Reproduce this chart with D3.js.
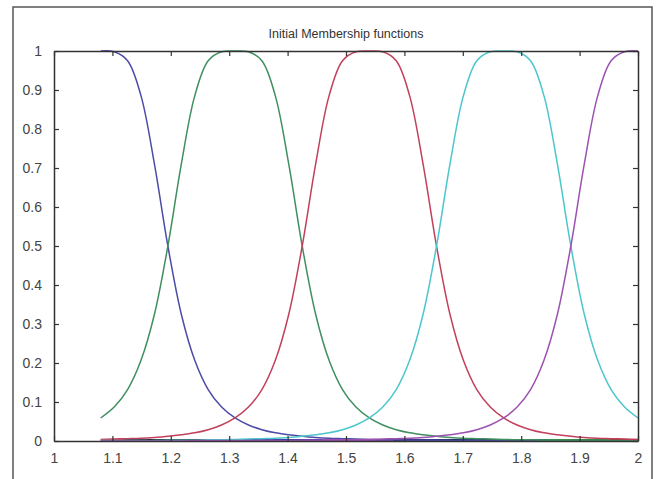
<!DOCTYPE html>
<html>
<head>
<meta charset="utf-8">
<script src="https://cdn.jsdelivr.net/npm/d3@7"></script>
<style>
  html, body { margin: 0; padding: 0; background: #fff; }
  svg { display: block; }
</style>
</head>
<body>
<svg id="chart" width="657" height="479"></svg>
<script>
// ---- data ----
const title = "Initial Membership functions";
const xTicks = [1, 1.1, 1.2, 1.3, 1.4, 1.5, 1.6, 1.7, 1.8, 1.9, 2];
const yTicks = [0, 0.1, 0.2, 0.3, 0.4, 0.5, 0.6, 0.7, 0.8, 0.9, 1];
const xTickLabels = ["1", "1.1", "1.2", "1.3", "1.4", "1.5", "1.6", "1.7", "1.8", "1.9", "2"];
const yTickLabels = ["0", "0.1", "0.2", "0.3", "0.4", "0.5", "0.6", "0.7", "0.8", "0.9", "1"];

const xs = [1.080, 1.103, 1.126, 1.149, 1.172, 1.195, 1.218, 1.241, 1.264, 1.287,
            1.310, 1.333, 1.356, 1.379, 1.402, 1.425, 1.448, 1.471, 1.494, 1.517,
            1.540, 1.563, 1.586, 1.609, 1.632, 1.655, 1.678, 1.701, 1.724, 1.747,
            1.770, 1.793, 1.816, 1.839, 1.862, 1.885, 1.908, 1.931, 1.954, 1.977, 2.000];

const mf1 = [1.000, 0.998, 0.975, 0.885, 0.710, 0.500, 0.325, 0.207, 0.132, 0.087,
             0.059, 0.041, 0.029, 0.021, 0.016, 0.012, 0.009, 0.007, 0.006, 0.005,
             0.004, 0.003, 0.003, 0.002, 0.002, 0.002, 0.001, 0.001, 0.001, 0.001,
             0.001, 0.001, 0.001, 0.001, 0.000, 0.000, 0.000, 0.000, 0.000, 0.000, 0.000];
const mf2 = [0.059, 0.087, 0.132, 0.207, 0.325, 0.500, 0.710, 0.885, 0.975, 0.998,
             1.000, 0.998, 0.975, 0.885, 0.710, 0.500, 0.325, 0.207, 0.132, 0.087,
             0.059, 0.041, 0.029, 0.021, 0.016, 0.012, 0.009, 0.007, 0.006, 0.005,
             0.004, 0.003, 0.003, 0.002, 0.002, 0.002, 0.001, 0.001, 0.001, 0.001, 0.001];
const mf3 = [0.004, 0.005, 0.006, 0.007, 0.009, 0.012, 0.016, 0.021, 0.029, 0.041,
             0.059, 0.087, 0.132, 0.207, 0.325, 0.500, 0.710, 0.885, 0.975, 0.998,
             1.000, 0.998, 0.975, 0.885, 0.710, 0.500, 0.325, 0.207, 0.132, 0.087,
             0.059, 0.041, 0.029, 0.021, 0.016, 0.012, 0.009, 0.007, 0.006, 0.005, 0.004];
const mf4 = [0.001, 0.001, 0.001, 0.001, 0.001, 0.002, 0.002, 0.002, 0.003, 0.003,
             0.004, 0.005, 0.006, 0.007, 0.009, 0.012, 0.016, 0.021, 0.029, 0.041,
             0.059, 0.087, 0.132, 0.207, 0.325, 0.500, 0.710, 0.885, 0.975, 0.998,
             1.000, 0.998, 0.975, 0.885, 0.710, 0.500, 0.325, 0.207, 0.132, 0.087, 0.059];
const mf5 = [0.000, 0.000, 0.000, 0.000, 0.000, 0.000, 0.000, 0.001, 0.001, 0.001,
             0.001, 0.001, 0.001, 0.001, 0.001, 0.002, 0.002, 0.002, 0.003, 0.003,
             0.004, 0.005, 0.006, 0.007, 0.009, 0.012, 0.016, 0.021, 0.029, 0.041,
             0.059, 0.087, 0.132, 0.207, 0.325, 0.500, 0.710, 0.885, 0.975, 0.998, 1.000];

// flat segments lying on the x axis (start x, end x)
const baseStarts = [1.08, 1.12, 1.30, 1.46, 1.58, 1.80, 1.95];
const baseEnds   = [1.12, 1.30, 1.46, 1.58, 1.80, 1.95, 2.00];

// ---- styles ----
const seriesColors = ["#4d4ba6", "#3f8f5f", "#c2405c", "#4cc6cc", "#9c52b0"];
const baseColors = ["#d0203c", "#302838", "#3a3aa8", "#a04cb0", "#28306a", "#2e8a40", "#8a3a20"];

const svg = d3.select("#chart");
const W = 657, H = 479;
const m = { left: 54, right: 657 - 638, top: 51, bottom: 479 - 441 };

// outer frame
svg.append("path")
  .attr("d", `M13,${H + 5} L13,7 L652,7 L652,${H + 5}`)
  .attr("fill", "none").attr("stroke", "#555").attr("stroke-width", 1.5);

const x = d3.scaleLinear().domain([1, 2]).range([m.left, W - m.right]);
const y = d3.scaleLinear().domain([0, 1]).range([H - m.bottom, m.top]);

// title
svg.append("text")
  .attr("x", (x(1) + x(2)) / 2).attr("y", 38)
  .attr("text-anchor", "middle")
  .attr("font-family", "Liberation Sans, Arial, sans-serif")
  .attr("font-size", 12.5).attr("fill", "#333")
  .text(title);

// baseline segments
const baseG = svg.append("g");
baseStarts.forEach((s, i) => {
  baseG.append("line")
    .attr("x1", x(s)).attr("x2", x(baseEnds[i]))
    .attr("y1", y(0) - 1).attr("y2", y(0) - 1)
    .attr("stroke", baseColors[i]).attr("stroke-width", 2.2);
});

// curves
const line = d3.line()
  .x((d, i) => x(xs[i]))
  .y(d => y(d))
  .curve(d3.curveCatmullRom.alpha(0.5));

[mf1, mf2, mf3, mf4, mf5].forEach((s, k) => {
  svg.append("path")
    .attr("d", line(s))
    .attr("fill", "none")
    .attr("stroke", seriesColors[k])
    .attr("stroke-width", 1.5);
});

// axes box with inward ticks
const axisColor = "#333";
const font = "Liberation Sans, Arial, sans-serif";

const xAxisB = d3.axisBottom(x).tickValues(xTicks).tickSizeInner(-5).tickSizeOuter(0)
  .tickPadding(12).tickFormat((d, i) => xTickLabels[i]);
const xAxisT = d3.axisTop(x).tickValues(xTicks).tickSizeInner(-5).tickSizeOuter(0).tickFormat("");
const yAxisL = d3.axisLeft(y).tickValues(yTicks).tickSizeInner(-5).tickSizeOuter(0)
  .tickPadding(12).tickFormat((d, i) => yTickLabels[i]);
const yAxisR = d3.axisRight(y).tickValues(yTicks).tickSizeInner(-5).tickSizeOuter(0).tickFormat("");

function style(g) {
  g.select(".domain").attr("stroke", axisColor).attr("stroke-width", 1.5);
  g.selectAll(".tick line").attr("stroke", axisColor).attr("stroke-width", 1.2);
  g.selectAll(".tick text").attr("fill", "#444").attr("font-family", font).attr("font-size", 14);
}

svg.append("g").attr("transform", `translate(0,${y(0)})`).call(xAxisB).call(style);
svg.append("g").attr("transform", `translate(0,${y(1)})`).call(xAxisT).call(style);
svg.append("g").attr("transform", `translate(${x(1)},0)`).call(yAxisL).call(style);
svg.append("g").attr("transform", `translate(${x(2)},0)`).call(yAxisR).call(style);
</script>
</body>
</html>
